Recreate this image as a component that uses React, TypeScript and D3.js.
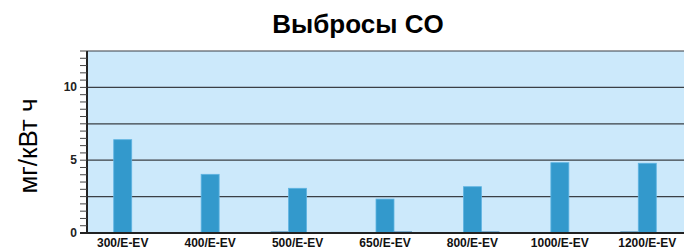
import * as d3 from 'd3';

// categories and values
const categories = ['300/E-EV', '400/E-EV', '500/E-EV', '650/E-EV', '800/E-EV', '1000/E-EV', '1200/E-EV'];
const mainValues = [6.41, 4.03, 3.07, 2.33, 3.18, 4.83, 4.79];
const leftValues = [0, 0, 0.1, 0.05, 0, 0, 0.1];
const rightValues = [0, 0.05, 0.05, 0.1, 0.1, 0, 0];
const yTickLabels = [0, 5, 10];
const series = ['left', 'main', 'right'];

const width = 684;
const height = 250;
const marginTop = 51;
const marginBottom = 17;
const plotLeft = 87;

export default function App() {
  const x0 = d3.scaleBand().domain(categories).range([79, 691]);
  const x1 = d3
    .scaleBand()
    .domain(series)
    .range([(x0.bandwidth() - 54) / 2, (x0.bandwidth() + 54) / 2]);
  const y = d3.scaleLinear().domain([0, 12.5]).range([height - marginBottom, marginTop]);

  const minorTicks = d3.range(0, 12.51, 0.5);
  const gridTicks = d3.range(2.5, 12.51, 2.5);
  const valuesFor = (s: string) => (s === 'left' ? leftValues : s === 'right' ? rightValues : mainValues);

  return (
    <svg
      width={width}
      height={height}
      style={{ position: 'absolute', left: 0, top: 0, fontFamily: 'Liberation Sans, Arial, sans-serif' }}
    >
      <rect width={width} height={height} fill='#fff' />
      <text x={358} y={33} textAnchor='middle' fontSize={26} fontWeight='bold' fill='#000'>
        Выбросы CO
      </text>
      <text
        transform={`translate(37,${(y(0) + y(12.5)) / 2 + 4}) rotate(-90)`}
        textAnchor='middle'
        fontSize={26}
        fill='#000'
      >
        мг/кВт ч
      </text>

      {/* plot background */}
      <rect x={plotLeft} y={y(12.5)} width={width - plotLeft} height={y(0) - y(12.5)} fill='#cce9fb' />
      {gridTicks.map((t) => (
        <line key={t} x1={plotLeft} x2={width} y1={y(t)} y2={y(t)} stroke='#3a3f45' strokeWidth={1.2} />
      ))}

      {/* bars */}
      {categories.map((c, i) => (
        <g key={c} transform={`translate(${x0(c)},0)`}>
          {series.map((s) => {
            const v = valuesFor(s)[i];
            if (!v) return null;
            return (
              <rect
                key={s}
                x={x1(s)}
                y={y(v)}
                width={x1.bandwidth()}
                height={y(0) - y(v)}
                fill={s === 'main' ? '#3399cc' : '#1f6a9c'}
                stroke={s === 'main' ? '#5fb4e2' : 'none'}
                strokeWidth={0.8}
              />
            );
          })}
        </g>
      ))}

      {/* y axis */}
      <line x1={plotLeft} x2={plotLeft} y1={y(12.5)} y2={y(0) + 1} stroke='#222' strokeWidth={2} />
      {minorTicks.map((t) => (
        <line key={t} x1={plotLeft - 7} x2={plotLeft} y1={y(t)} y2={y(t)} stroke='#444' strokeWidth={1} />
      ))}
      {yTickLabels.map((t) => (
        <text key={t} x={77} y={y(t) + 4} textAnchor='end' fontSize={12} fontWeight='bold' fill='#222'>
          {t}
        </text>
      ))}

      {/* x axis */}
      <line x1={plotLeft - 7} x2={width} y1={y(0)} y2={y(0)} stroke='#222' strokeWidth={2} />
      {categories.map((c) => (
        <text
          key={c}
          x={(x0(c) ?? 0) + x0.bandwidth() / 2}
          y={247}
          textAnchor='middle'
          fontSize={12}
          fontWeight='bold'
          fill='#111'
        >
          {c}
        </text>
      ))}
    </svg>
  );
}
